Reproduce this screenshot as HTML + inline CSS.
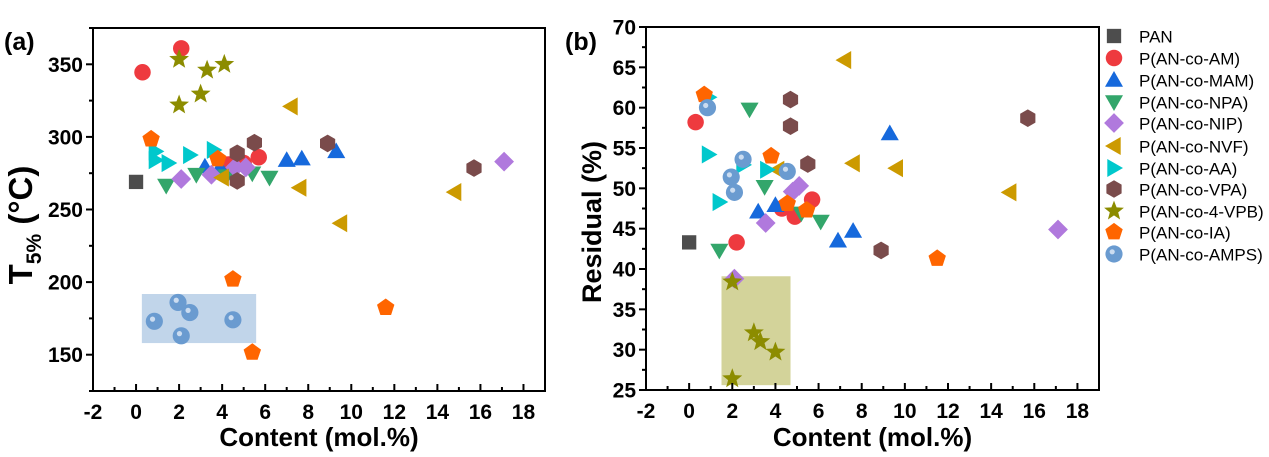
<!DOCTYPE html>
<html><head><meta charset="utf-8"><style>
body{margin:0;background:#fff;}
svg{display:block;font-family:"Liberation Sans",Arial,sans-serif;}
</style></head><body>
<svg id="c" width="1269" height="457" viewBox="0 0 1269 457"></svg>
<script>
const seriesNames=["PAN","P(AN-co-AM)","P(AN-co-MAM)","P(AN-co-NPA)","P(AN-co-NIP)","P(AN-co-NVF)","P(AN-co-AA)","P(AN-co-VPA)","P(AN-co-4-VPB)","P(AN-co-IA)","P(AN-co-AMPS)"];
const xTicks=[-2,0,2,4,6,8,10,12,14,16,18];
const yTicksA=[150,200,250,300,350];
const yTicksB=[25,30,35,40,45,50,55,60,65,70];
// panel (a): content x, T5% y
const aX=[[0],[0.3,2.1,5.7,4.3,5.0],[3.2,3.9,7.0,7.7,9.3],[1.4,2.8,4.2,5.4,6.2],[2.1,3.5,4.6,5.1,17.1],[7.2,7.6,9.5,14.8,4.0],[0.9,0.9,1.5,2.5,3.6],[4.7,4.7,5.5,8.9,15.7],[2.0,3.3,4.1,3.0,2.0],[0.7,3.8,4.5,5.4,11.6],[0.85,1.95,2.5,2.1,4.5]];
const aY=[[269],[344.5,361,286,281,282],[279.5,279,284,285,290],[266.5,274,273,275,272],[271,274,279,279,283],[321,265,240.5,262,272],[290,284,282,287.5,291],[288.7,269.7,296,295.5,278.5],[353.4,346,350,329.5,322],[298.5,284.8,202,151.6,182.4],[173,186,179,163,174]];
// panel (b): content x, residual y
const bX=[[0],[0.3,2.2,4.3,4.9,5.7],[3.2,4.0,6.9,7.6,9.3],[1.4,2.8,3.5,5.2,6.1],[3.55,4.8,5.1,2.1,17.1],[7.2,7.6,9.6,14.86,4.1],[0.9,0.9,1.4,2.5,3.6],[4.7,4.7,5.5,8.9,15.7],[2.0,2.0,3.0,3.3,4.0],[0.7,3.8,4.55,5.45,11.5],[0.85,2.5,1.95,2.1,4.55]];
const bY=[[43.3],[58.2,43.3,47.5,46.5,48.6],[47.1,47.9,43.5,44.7,56.8],[42.3,59.8,50.2,46.9,45.9],[45.7,49.6,50.3,38.8,44.9],[65.9,53.1,52.5,49.5,52.3],[61.3,54.2,48.3,52.9,52.3],[61.0,57.7,53.0,42.3,58.7],[38.4,26.4,32.1,31.0,29.7],[61.6,54.0,48.1,47.3,41.3],[60.0,53.6,51.4,49.5,52.1]];
const colors=["#4d4d4d","#ee3a3f","#1669dc","#33a66b","#b079dd","#cc9a00","#00c8cc","#7a4b4b","#8c8c00","#ff6500","#6a9bd0"];
const shapes=["sq","ci","tu","td","di","tl","tr","hx","st","pe","sp"];
const NS="http://www.w3.org/2000/svg";
const svg=document.getElementById("c");
function el(t,a,p){const e=document.createElementNS(NS,t);for(const k in a)e.setAttribute(k,a[k]);(p||svg).appendChild(e);return e;}
function poly(n,r,rot,cx,cy){let p=[];for(let i=0;i<n;i++){const a=rot+i*2*Math.PI/n;p.push((cx+r*Math.cos(a)).toFixed(1)+","+(cy+r*Math.sin(a)).toFixed(1));}return p.join(" ");}
function marker(s,cx,cy,col,g){
  const k=1.1;let e;
  if(s=="sq")e=el("rect",{x:cx-6.5*k,y:cy-6.5*k,width:13*k,height:13*k,fill:col},g);
  else if(s=="ci")e=el("circle",{cx:cx,cy:cy,r:7.5*k,fill:col},g);
  else if(s=="tu")e=el("polygon",{points:poly(3,9.5*k,-Math.PI/2,cx,cy+1.5),fill:col},g);
  else if(s=="td")e=el("polygon",{points:poly(3,9.5*k,Math.PI/2,cx,cy-1.5),fill:col},g);
  else if(s=="tl")e=el("polygon",{points:poly(3,9.5*k,Math.PI,cx+1.5,cy),fill:col},g);
  else if(s=="tr")e=el("polygon",{points:poly(3,9.5*k,0,cx-1.5,cy),fill:col},g);
  else if(s=="di")e=el("polygon",{points:poly(4,9*k,0,cx,cy),fill:col},g);
  else if(s=="hx")e=el("polygon",{points:poly(6,8*k,Math.PI/6,cx,cy),fill:col},g);
  else if(s=="pe")e=el("polygon",{points:poly(5,8.3*k,-Math.PI/2,cx,cy),fill:col},g);
  else if(s=="st"){let p=[];for(let i=0;i<10;i++){const a=-Math.PI/2+i*Math.PI/5,rr=i%2?4*k:9.5*k;p.push((cx+rr*Math.cos(a)).toFixed(1)+","+(cy+rr*Math.sin(a)).toFixed(1));}e=el("polygon",{points:p.join(" "),fill:col},g);}
  else if(s=="sp"){e=el("circle",{cx:cx,cy:cy,r:7.8*k,fill:col},g);el("circle",{cx:cx-1.8,cy:cy-2.2,r:2.6,fill:"#dce8f6",opacity:0.85},g);}
  return e;
}
function panel(id,L,T,R,B,xmin,xmax,ymin,ymax,yTicks,xs,ys,rect,rectCol,tag,tagX){
  const g=el("g",{});
  
  
  const sx=v=>L+(v-xmin)/(xmax-xmin)*(R-L);
  const sy=v=>B-(v-ymin)/(ymax-ymin)*(B-T);
  const rc=el("rect",{x:sx(rect[0]),y:sy(rect[3]),width:sx(rect[1])-sx(rect[0]),height:sy(rect[2])-sy(rect[3]),fill:rectCol},g);
  
  
  for(let s=0;s<xs.length;s++){
    const sg=el("g",{},g);
    
    
    for(let i=0;i<xs[s].length;i++){
      const m=marker(shapes[s],sx(xs[s][i]),sy(ys[s][i]),colors[s],sg);
      
      
    }
  }
  const fr=el("rect",{x:L,y:T,width:R-L,height:B-T,fill:"none",stroke:"#000","stroke-width":2},g);
  
  
  xTicks.forEach(v=>{const x=sx(v);el("line",{x1:x,y1:B,x2:x,y2:B-7,stroke:"#000","stroke-width":2},g);
    const mx=sx(v+1);if(v+1<xmax)el("line",{x1:mx,y1:B,x2:mx,y2:B-4,stroke:"#000","stroke-width":2},g);
    const t=el("text",{x:x,y:B+28,"text-anchor":"middle","font-size":21,"font-weight":"bold"},g);t.textContent=v;
    });
  const step=yTicks[1]-yTicks[0];
  yTicks.forEach(v=>{const y=sy(v);el("line",{x1:L,y1:y,x2:L-7,y2:y,stroke:"#000","stroke-width":2},g);
    const my=v-step/2;if(my>ymin-0.01)el("line",{x1:L,y1:sy(my),x2:L-4,y2:sy(my),stroke:"#000","stroke-width":2},g);
    const t=el("text",{x:L-10,y:y+7.5,"text-anchor":"end","font-size":21,"font-weight":"bold"},g);t.textContent=v;
    });
  if(yTicks[yTicks.length-1]+step/2<=ymax)el("line",{x1:L,y1:sy(yTicks[yTicks.length-1]+step/2),x2:L-4,y2:sy(yTicks[yTicks.length-1]+step/2),stroke:"#000","stroke-width":2},g);
  const xt=el("text",{x:(L+R)/2,y:446,"text-anchor":"middle","font-size":26,"font-weight":"bold"},g);xt.textContent="Content (mol.%)";
  
  const tg=el("text",{x:tagX,y:50,"font-size":25,"font-weight":"bold"},g);tg.textContent=tag;
  
  return {g,sx,sy};
}
panel("panel-a",93,28,545,391,-2,19,125,375,yTicksA,aX,aY,[0.27,5.58,158,191.8],"#c1d5ea",'(a)',4);
panel("panel-b",646,27,1099,390,-2,19,25,70,yTicksB,bX,bY,[1.5,4.7,25.6,39.1],"#d3d39a",'(b)',565);
// y titles
const ya=el("text",{transform:"translate(32,225) rotate(-90)","text-anchor":"middle","font-size":33,"font-weight":"bold"});

ya.innerHTML='T<tspan font-size="21" dy="9">5%</tspan><tspan dy="-9"> (°C)</tspan>';
const yb=el("text",{transform:"translate(601,222) rotate(-90)","text-anchor":"middle","font-size":27,"font-weight":"bold"});
yb.textContent="Residual (%)";

// legend
const lg=el("g",{});


const rows=[36,58,80,102,123,146,168,189,211,232,254];
seriesNames.forEach((n,i)=>{
  const e=el("g",{},lg);
  
  
  marker(shapes[i],1114,rows[i],colors[i],e);
  const t=el("text",{x:1139,y:rows[i]+6.5,"font-size":17},e);t.textContent=n;
});
</script>
</body></html>
